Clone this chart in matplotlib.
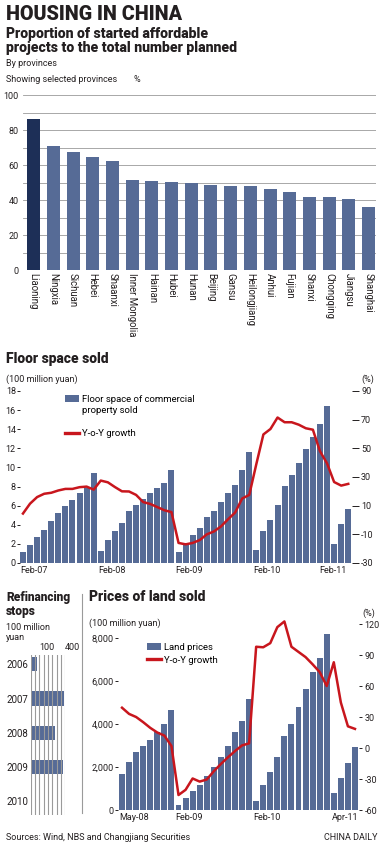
import numpy as np
import matplotlib
matplotlib.use("Agg")
import matplotlib.pyplot as plt
from matplotlib.patches import Patch
from matplotlib.lines import Line2D
from matplotlib.ticker import FuncFormatter

plt.rcParams["font.family"] = ["Roboto", "DejaVu Sans"]
plt.rcParams["axes.unicode_minus"] = False

BLUE = "#566b96"
NAVY = "#1d2f57"
RED = "#c8161d"
INK = "#231f20"
GRID = "#9a9a9a"

# --- affordable housing started, % of planned
provinces = ["Liaoning", "Ningxia", "Sichuan", "Hebei", "Shaanxi", "Inner Mongolia",
             "Hainan", "Hubei", "Hunan", "Beijing", "Gansu", "Heilongjiang", "Anhui",
             "Fujian", "Shanxi", "Chongqing", "Jiangsu", "Shanghai"]
started_pct = [86.5, 71, 67.5, 64.5, 62.5, 51.5, 51, 50.5, 50, 48.5, 48, 48, 46.5,
               44.5, 41.5, 41.5, 40.5, 36]

# --- floor space sold (Feb-07 .. Apr-11, 100 million yuan) and y-o-y growth (%)
floor_2007 = [1.1, 1.9, 2.7, 3.5, 4.4, 5.25, 6.0, 6.6, 7.3, 7.9, 9.4]
floor_2008 = [1.3, 2.4, 3.35, 4.2, 5.4, 6.1, 6.7, 7.35, 7.9, 8.4, 9.75]
floor_2009 = [1.2, 2.1, 2.9, 3.65, 4.8, 5.45, 6.4, 7.3, 8.15, 9.75, 11.6]
floor_2010 = [1.4, 3.3, 4.5, 6.1, 8.1, 9.25, 10.5, 11.95, 13.2, 14.55, 16.4]
floor_2011 = [2.0, 4.1, 5.65]
floor_yoy = [4.5, 11.4, 16, 18.3, 19, 20.6, 21.7, 21.7, 22.9, 23.3, 21.2,
             27.5, 26.3, 23, 20, 19.9, 17.5, 12.5, 11.2, 9, 6.8, 5.5,
             -16, -17, -16, -14, -10, -8, -4.5, 0.5, 5.2, 15, 17.5,
             39, 59.7, 63.5, 71.5, 68.2, 68.2, 66.5, 64, 63, 48, 39.5,
             26.5, 24, 25.2]
floor_ticks = ["Feb-07", "Feb-08", "Feb-09", "Feb-10", "Feb-11"]
floor_tick_idx = [0, 11, 22, 33, 44]

# --- land prices (May-08 .. Apr-11, 100 million yuan) and y-o-y growth (%)
land_2008 = [1670, 2230, 2700, 2990, 3260, 3650, 4000, 4650]
land_2009 = [230, 540, 900, 1160, 1580, 2015, 2480, 2980, 3640, 4150, 5150]
land_2010 = [420, 1150, 1780, 2480, 3440, 4000, 4790, 5630, 6430, 7080, 8190]
land_2011 = [800, 1500, 2180, 2940]
land_yoy = [39, 33, 30, 25, 19.5, 15, 12, 2,
            -45.5, -40.5, -29.5, -32.5, -30.5, -22.5, -15.5, -9, -3, 2.5, 4.5,
            98, 97.5, 101.5, 117, 122.5, 98, 93, 88, 81, 73.5, 60,
            83, 44, 21, 18.5]
land_ticks = ["May-08", "Feb-09", "Feb-10", "Apr-11"]
land_tick_idx = [0, 8, 19, 33]

# --- refinancing stops (100 million yuan)
refi_years = ["2006", "2007", "2008", "2009", "2010"]
refi_vals = [70, 385, 280, 375, 0]

floor_vals = floor_2007 + floor_2008 + floor_2009 + floor_2010 + floor_2011
land_vals = land_2008 + land_2009 + land_2010 + land_2011

W, H = 383, 851
fig = plt.figure(figsize=(W / 100, H / 100), dpi=100)


def add_ax(l, t, r, b):
    return fig.add_axes([l / W, 1 - b / H, (r - l) / W, (b - t) / H])


def put(x, y, s, size, weight="normal", **kw):
    kw.setdefault("va", "center")
    fig.text(x / W, 1 - y / H, s, fontsize=size, fontweight=weight, color=INK, **kw)


def clean(ax):
    for s in ax.spines.values():
        s.set_visible(False)


# header
put(6, 14, "HOUSING IN CHINA", 14.2, "black")
put(6, 34, "Proportion of started affordable", 10.1, "black")
put(6, 48, "projects to the total number planned", 10.1, "black")
put(6, 63, "By provinces", 6.5)
put(6, 80, "Showing selected provinces", 6.5)
put(133, 80, "%", 6.5)

# chart 1
ax1 = add_ax(23, 95, 376, 270)
x1 = np.arange(len(provinces))
ax1.bar(x1, started_pct, width=0.66, color=[NAVY] + [BLUE] * (len(provinces) - 1), zorder=2)
ax1.set_xlim(-0.54, 17.38)
ax1.set_ylim(0, 100)
ax1.set_yticks(range(0, 101, 20))
ax1.set_yticks(range(0, 101, 10), minor=True)
ax1.grid(axis="y", which="both", color=GRID, lw=0.6, zorder=0)
ax1.set_axisbelow(True)
ax1.tick_params(axis="y", which="both", length=0, pad=3, labelsize=6.5, colors=INK)
ax1.set_xticks(x1)
ax1.set_xticklabels(provinces, rotation=-90, fontsize=6.9, color=INK)
ax1.tick_params(axis="x", length=0, pad=2)
clean(ax1)

# chart 2
put(6, 359, "Floor space sold", 10, "black")
put(6, 379, "(100 million yuan)", 6.5)
put(374, 379, "(%)", 6.5, ha="right")

ax2 = add_ax(20, 391, 352, 563)
xf = np.arange(len(floor_vals))
ax2.bar(xf, floor_vals, width=0.84, color=BLUE)
ax2.set_xlim(-0.42, 46.53)
ax2.set_ylim(0, 18)
ax2.set_yticks(range(0, 19, 2))
ax2.tick_params(axis="y", length=2, width=0.7, pad=1, labelsize=6.5, colors=INK)
ax2.set_xticks([i - 0.42 for i in floor_tick_idx[:-1]] + [floor_tick_idx[-1] - 0.2])
labs = ax2.set_xticklabels(floor_ticks, fontsize=6.5, color=INK)
for lab in labs[:-1]:
    lab.set_ha("left")
ax2.tick_params(axis="x", length=0, pad=2)
clean(ax2)

tw2 = ax2.twinx()
tw2.plot(xf, floor_yoy, color=RED, lw=1.8)
tw2.set_ylim(-30, 90)
tw2.set_yticks(range(-30, 91, 20))
tw2.tick_params(axis="y", length=5, width=0.7, pad=1.5, labelsize=6.5, colors=INK)
clean(tw2)

fig.legend(handles=[Patch(facecolor=BLUE), Patch(alpha=0), Patch(alpha=0),
                    Line2D([], [], color=RED, lw=2.4)],
           labels=["Floor space of commercial", "property sold", " ", "Y-o-Y growth"],
           loc="upper left", bbox_to_anchor=(65 / W, 1 - 395 / H), frameon=False,
           fontsize=6.8, handlelength=1.5, handleheight=0.8, handletextpad=0.3,
           labelspacing=0.25, borderpad=0, borderaxespad=0)

# refinancing stops
put(6, 598, "Refinancing", 8.6, "black")
put(6, 611, "stops", 8.6, "black")
put(6, 627, "100 million", 6.5)
put(6, 637, "yuan", 6.5)

ax4 = add_ax(30.7, 655, 65.3, 815)
ax4.barh(range(len(refi_years)), refi_vals, height=0.42, color=BLUE, zorder=1)
ax4.set_xlim(0, 400)
ax4.set_ylim(4.4, -0.27)
ax4.set_xticks(np.arange(0, 401, 50), minor=True)
ax4.set_xticks([100, 400])
ax4.xaxis.tick_top()
for lab in ax4.set_xticklabels(["100", "400"], fontsize=6.5, color=INK):
    lab.set_ha("left")
ax4.grid(axis="x", which="both", color=GRID, lw=0.8)
ax4.set_axisbelow(False)
ax4.set_yticks(range(len(refi_years)))
ax4.set_yticklabels(refi_years, fontsize=7, color=INK)
ax4.tick_params(which="both", length=0, pad=2)
clean(ax4)

fig.add_artist(Line2D([82 / W, 82 / W], [1 - 594 / H, 1 - 813 / H],
                      transform=fig.transFigure, color=GRID, lw=0.8))

# chart 3
put(89, 597, "Prices of land sold", 10, "black")
put(89, 623, "(100 million yuan)", 6.5)
put(375, 613, "(%)", 6.5, ha="right")

ax3 = add_ax(118, 620, 359, 810)
xl = np.arange(len(land_vals))
ax3.bar(xl, land_vals, width=0.84, color=BLUE)
ax3.set_xlim(-0.57, 33.57)
ax3.set_ylim(0, 8837)
ax3.set_yticks(range(0, 8001, 2000))
ax3.yaxis.set_major_formatter(FuncFormatter(lambda v, p: f"{int(v):,}"))
ax3.tick_params(axis="y", length=2, width=0.7, pad=1, labelsize=6.5, colors=INK)
ax3.set_xticks([i - 0.42 for i in land_tick_idx[:-1]] + [land_tick_idx[-1] + 0.5])
labs = ax3.set_xticklabels(land_ticks, fontsize=6.5, color=INK)
for lab in labs[:-1]:
    lab.set_ha("left")
labs[-1].set_ha("right")
ax3.tick_params(axis="x", length=0, pad=2)
clean(ax3)

tw3 = ax3.twinx()
tw3.plot(xl, land_yoy, color=RED, lw=1.8)
tw3.set_ylim(-60, 123.9)
tw3.set_yticks(range(-60, 121, 30))
tw3.tick_params(axis="y", length=2, width=0.7, pad=2, labelsize=6.5, colors=INK)
clean(tw3)

fig.legend(handles=[Patch(facecolor=BLUE), Line2D([], [], color=RED, lw=2.4)],
           labels=["Land prices", "Y-o-Y growth"],
           loc="upper left", bbox_to_anchor=(147 / W, 1 - 643 / H), frameon=False,
           fontsize=6.8, handlelength=1.5, handleheight=0.8, handletextpad=0.3,
           labelspacing=0.4, borderpad=0, borderaxespad=0)

# footer
put(6, 838, "Sources: Wind, NBS and Changjiang Securities", 6.5)
put(377, 838, "CHINA DAILY", 6.5, ha="right")

fig.savefig("out.png", dpi=100)
